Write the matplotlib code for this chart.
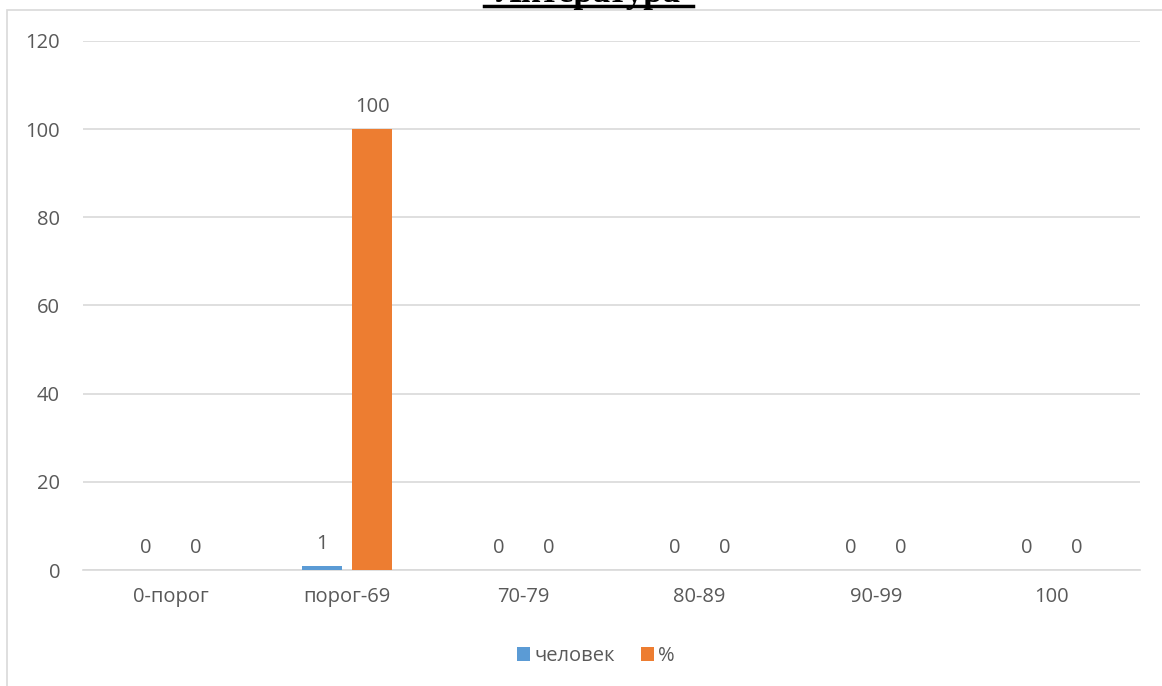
import numpy as np
import matplotlib.pyplot as plt
from matplotlib.patches import Rectangle

plt.rcParams['font.family'] = ['Open Sans', 'DejaVu Sans']

categories = ['0-порог', 'порог-69', '70-79', '80-89', '90-99', '100']
people = [0, 1, 0, 0, 0, 0]
percent = [0, 100, 0, 0, 0, 0]

blue = '#5B9BD5'
orange = '#ED7D31'
txt = '#595959'
grid = '#D9D9D9'
fs = 14.5

W, H = 1162, 686
fig = plt.figure(figsize=(W / 100, H / 100), dpi=100)
ax = fig.add_axes([83 / W, 1 - 570 / H, (1140 - 83) / W, (570 - 41) / H])

# outer chart frame
fig.patches.append(Rectangle((7 / W, -0.01), 1.1, 1 - 10 / H + 0.01,
                             transform=fig.transFigure, fill=False,
                             edgecolor=grid, linewidth=1.2))

x = np.arange(len(categories))
w = 0.227
off = 0.142
b1 = ax.bar(x - off, people, width=w, color=blue, label='человек', zorder=3)
b2 = ax.bar(x + off, percent, width=w, color=orange, label='%', zorder=3)

for bars, vals in ((b1, people), (b2, percent)):
    for rect, v in zip(bars, vals):
        ax.annotate(str(v), (rect.get_x() + rect.get_width() / 2, v),
                    xytext=(0, 12), textcoords='offset points',
                    ha='center', va='baseline', fontsize=fs, color=txt)

ax.set_xlim(-0.5, len(categories) - 0.5)
ax.set_ylim(0, 120)
ax.set_yticks(range(0, 121, 20))
ax.set_xticks(x)
ax.set_xticklabels(categories)
ax.tick_params(axis='both', length=0, labelsize=fs, labelcolor=txt)
ax.tick_params(axis='x', pad=12)
ax.tick_params(axis='y', pad=16.5)
ax.yaxis.grid(True, color=grid, linewidth=1.2, zorder=0)
for s in ['top', 'right', 'left']:
    ax.spines[s].set_visible(False)
ax.spines['bottom'].set_color(grid)
ax.spines['bottom'].set_linewidth(1.2)

leg = fig.legend(loc='center', bbox_to_anchor=(596 / W, 1 - 656 / H), ncol=2,
                 frameon=False, fontsize=fs, handlelength=0.65, handleheight=0.65,
                 handletextpad=0.2, columnspacing=1.3)
for t in leg.get_texts():
    t.set_color(txt)

# title cut off at the top edge, as in the source
fig.text(588 / W, 1 - 1.5 / H, 'Литература', ha='center', va='baseline',
         fontsize=25, fontweight='bold', family='Liberation Serif', color='black')
fig.add_artist(plt.Line2D([484 / W, 693 / W], [1 - 5.5 / H, 1 - 5.5 / H],
                          transform=fig.transFigure, color='black', linewidth=2.5))

fig.savefig('out.png', dpi=100)
